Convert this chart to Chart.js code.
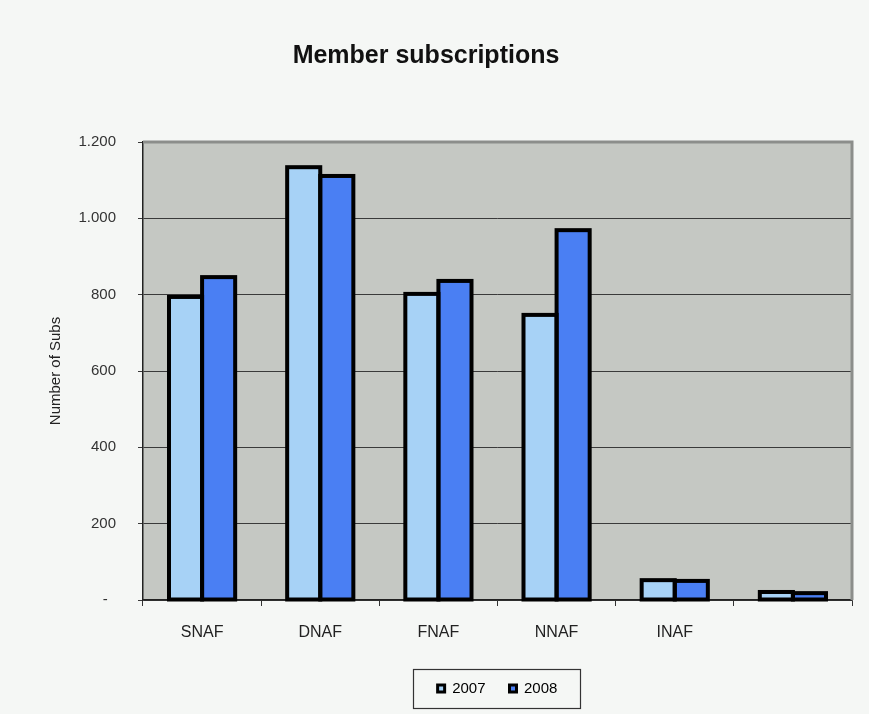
<!DOCTYPE html>
<html>
<head>
<meta charset="utf-8">
<script src="https://cdn.jsdelivr.net/npm/chart.js@4"></script>
<style>
  html, body { margin: 0; padding: 0; background: #f5f7f5; }
  #wrap { width: 869px; height: 714px; position: relative; }
</style>
</head>
<body>
<div id="wrap"><canvas id="c" width="869" height="714"></canvas></div>
<script>
const categories = ["SNAF", "DNAF", "FNAF", "NNAF", "INAF", ""];
const values2007 = [794, 1134, 802, 747, 52, 21];
const values2008 = [846, 1111, 836, 969, 50, 18];
const seriesNames = ["2007", "2008"];
const yTicks = [0, 200, 400, 600, 800, 1000, 1200];

const FONT = "'Liberation Sans', Arial, sans-serif";

const plotDeco = {
  id: 'plotDeco',
  beforeDraw(chart) {
    const {ctx, chartArea: a} = chart;
    ctx.save();
    ctx.fillStyle = '#c5c8c3';
    ctx.fillRect(a.left, a.top, a.right - a.left, a.bottom - a.top);
    ctx.restore();
  },
  afterDatasetsDraw(chart) {
    const {ctx, chartArea: a} = chart;
    ctx.save();
    // bar outlines centred on the bar edges
    ctx.strokeStyle = '#000';
    ctx.lineWidth = 4;
    ctx.lineJoin = 'miter';
    chart.data.datasets.forEach((ds, di) => {
      const meta = chart.getDatasetMeta(di);
      meta.data.forEach(el => {
        const p = el.getProps(['x', 'y', 'base', 'width'], true);
        ctx.strokeRect(p.x - p.width / 2, p.y, p.width, p.base - p.y);
      });
    });
    // plot frame (top & right)
    ctx.strokeStyle = '#8c8e8b';
    ctx.lineWidth = 3;
    ctx.beginPath();
    ctx.moveTo(a.left, a.top);
    ctx.lineTo(a.right, a.top);
    ctx.lineTo(a.right, a.bottom);
    ctx.stroke();
    ctx.restore();
  },
  afterDraw(chart) {
    const lg = chart.legend;
    if (!lg || !lg.legendHitBoxes || !lg.legendHitBoxes.length) return;
    let minX = Infinity, maxX = -Infinity, minY = Infinity, maxY = -Infinity;
    lg.legendHitBoxes.forEach(b => {
      minX = Math.min(minX, b.left); maxX = Math.max(maxX, b.left + b.width);
      minY = Math.min(minY, b.top); maxY = Math.max(maxY, b.top + b.height);
    });
    const ctx = chart.ctx;
    ctx.save();
    ctx.strokeStyle = '#333';
    ctx.lineWidth = 1.2;
    ctx.strokeRect(Math.round(minX - 25) + 0.5, Math.round(minY - 12) + 0.5,
                   Math.round(maxX - minX + 47), Math.round(maxY - minY + 24));
    ctx.restore();
  }
};

new Chart(document.getElementById('c'), {
  type: 'bar',
  data: {
    labels: categories,
    datasets: [
      { label: seriesNames[0], data: values2007, backgroundColor: '#a7d2f6', borderWidth: 0 },
      { label: seriesNames[1], data: values2008, backgroundColor: '#4a7ff3', borderWidth: 0 }
    ]
  },
  options: {
    responsive: false,
    animation: false,
    devicePixelRatio: 1,
    layout: { padding: { left: 0, right: 17, top: 0, bottom: 8 } },
    datasets: { bar: { categoryPercentage: 0.56, barPercentage: 1.0 } },
    plugins: {
      title: {
        display: true,
        text: 'Member subscriptions',
        color: '#111',
        font: { family: FONT, size: 25, weight: 'bold', lineHeight: 1.2 },
        padding: { top: 41, bottom: 71 }
      },
      legend: {
        position: 'bottom',
        fullSize: false,
        labels: {
          color: '#222',
          font: { family: FONT, size: 15 },
          boxWidth: 7,
          boxHeight: 7,
          padding: 24,
          generateLabels(chart) {
            return chart.data.datasets.map((ds, i) => ({
              text: ds.label,
              fillStyle: ds.backgroundColor,
              strokeStyle: '#000',
              lineWidth: 3,
              datasetIndex: i
            }));
          }
        }
      },
      tooltip: { enabled: false }
    },
    scales: {
      x: {
        grid: { display: true, drawOnChartArea: false, drawTicks: true, tickLength: 6, color: '#333', offset: true },
        border: { display: true, color: '#222', width: 1.5 },
        ticks: { color: '#222', font: { family: FONT, size: 16 }, padding: 17, maxRotation: 0 },
        afterFit(scale) { scale.height = 57; }
      },
      y: {
        min: 0,
        max: 1200,
        afterBuildTicks(scale) { scale.ticks = yTicks.map(v => ({ value: v })); },
        grid: { display: true, color: '#3a3a3a', lineWidth: 1, tickLength: 5, drawTicks: true },
        border: { display: true, color: '#222', width: 1.5 },
        ticks: {
          color: '#333',
          font: { family: FONT, size: 15 },
          padding: 22,
          callback(v) {
            if (v === 0) return '-  ';
            return v.toString().replace(/\B(?=(\d{3})+(?!\d))/g, '.');
          }
        },
        title: {
          display: true,
          text: 'Number of Subs',
          color: '#222',
          font: { family: FONT, size: 15, lineHeight: 1.2 },
          padding: { top: 47, bottom: 0 }
        },
        afterFit(scale) { scale.width = 143; }
      }
    }
  },
  plugins: [plotDeco]
});
</script>
</body>
</html>
